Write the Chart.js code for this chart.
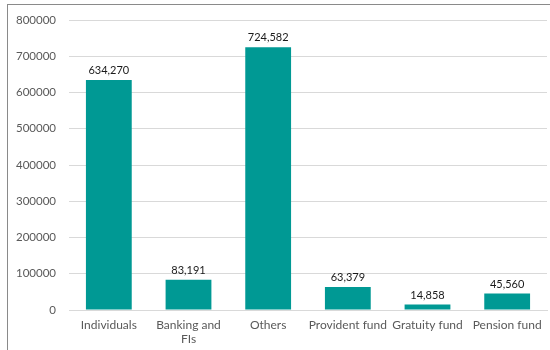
<!DOCTYPE html>
<html>
<head>
<meta charset="utf-8">
<script src="https://cdn.jsdelivr.net/npm/chart.js@4/dist/chart.umd.min.js"></script>
<style>
  html, body { margin: 0; padding: 0; background: #fff; }
  #wrap { position: relative; width: 550px; height: 350px; overflow: hidden; }
  #frame { position: absolute; left: 7px; top: 4px; width: 600px; height: 400px; border: 1px solid #8a8a8a; box-sizing: border-box; }
  #holder { position: absolute; left: 0; top: 0; width: 550px; height: 350px; }
</style>
</head>
<body>
<div id="wrap">
  <div id="frame"></div>
  <div id="holder"><canvas id="c" width="550" height="350"></canvas></div>
</div>
<script>
const categories = ['Individuals', ['Banking and', 'FIs'], 'Others', 'Provident fund', 'Gratuity fund', 'Pension fund'];
const holders = [634270, 83191, 724582, 63379, 14858, 45560];
const yTicks = [0, 100000, 200000, 300000, 400000, 500000, 600000, 700000, 800000];

const FONT = 'Lato, "Open Sans", sans-serif';

// value labels above each bar, formatted with thousands separators
const valueLabels = {
  id: 'valueLabels',
  afterDatasetsDraw(chart) {
    const ctx = chart.ctx;
    const meta = chart.getDatasetMeta(0);
    ctx.save();
    ctx.font = '11px ' + FONT;
    ctx.fillStyle = '#1a1a1a';
    ctx.textAlign = 'center';
    ctx.textBaseline = 'bottom';
    meta.data.forEach((bar, i) => {
      const v = chart.data.datasets[0].data[i];
      ctx.fillText(v.toLocaleString('en-US'), bar.x, bar.y - 4);
    });
    ctx.restore();
  }
};

new Chart(document.getElementById('c'), {
  type: 'bar',
  data: {
    labels: categories,
    datasets: [{
      data: holders,
      backgroundColor: '#009994',
      borderWidth: 0,
      categoryPercentage: 1,
      barPercentage: 0.575
    }]
  },
  options: {
    responsive: false,
    animation: false,
    layout: { padding: { top: 20, right: 3, left: 0, bottom: 0 } },
    plugins: { legend: { display: false }, tooltip: { enabled: false } },
    scales: {
      y: {
        min: 0,
        max: 800000,
        afterBuildTicks(scale) { scale.ticks = yTicks.map(v => ({ value: v })); },
        afterFit(scale) { scale.width = 69; },
        ticks: {
          color: '#595959',
          font: { family: FONT, size: 11.5 },
          padding: 13,
          callback: v => String(v)
        },
        grid: { color: '#d9d9d9', drawTicks: false },
        border: { display: false }
      },
      x: {
        afterFit(scale) { scale.height = 40; },
        ticks: {
          color: '#595959',
          font: { family: FONT, size: 12 },
          padding: 8,
          maxRotation: 0,
          autoSkip: false
        },
        grid: { display: false, drawTicks: false },
        border: { display: true, color: '#d9d9d9' }
      }
    }
  },
  plugins: [valueLabels]
});
</script>
</body>
</html>
